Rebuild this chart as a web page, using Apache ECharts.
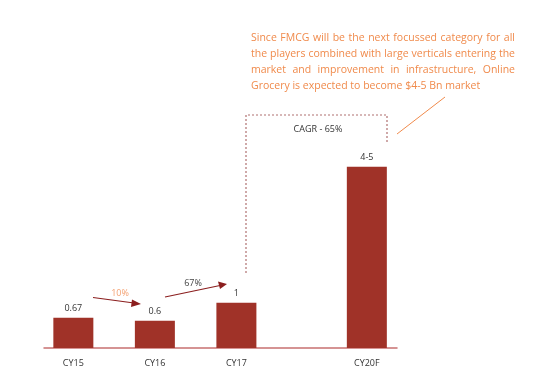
<!DOCTYPE html>
<html><head><meta charset="utf-8">
<script src="https://cdn.jsdelivr.net/npm/echarts@6/dist/echarts.min.js"></script>
<style>html,body{margin:0;padding:0;background:#fff}#c{width:546px;height:389px}</style>
</head><body><div id="c"></div>
<script>
var categories = ['CY15', 'CY16', 'CY17', 'CY20F'];
var slots = [0, 1, 2, 3.6];
var values = [0.67, 0.6, 1, 4];
var valueLabels = ['0.67', '0.6', '1', '4-5'];
var growthLabels = ['10%', '67%'];
var cagrLabel = 'CAGR - 65%';
var noteLines = [
  'Since FMCG will be the next focussed category for all',
  'the players combined with large verticals entering the',
  'market and improvement in infrastructure, Online',
  'Grocery is expected to become $4-5 Bn market'
];

var chart = echarts.init(document.getElementById('c'));
var FONT = '"Open Sans", sans-serif';
var ctx = document.createElement('canvas').getContext('2d');
var noteSize = 10.5;
ctx.font = noteSize + 'px "Open Sans"';

// justified note text
var noteX = 251, noteW = 264, noteY0 = 38, noteLH = 16;
var noteEls = [];
noteLines.forEach(function (line, li) {
  var y = noteY0 + li * noteLH;
  if (li === noteLines.length - 1) {
    noteEls.push({type: 'text', x: noteX, y: y, style: {text: line, fill: '#f08a4b', font: noteSize + 'px ' + FONT, verticalAlign: 'middle'}});
    return;
  }
  var words = line.split(' ');
  var total = 0;
  words.forEach(function (w) { total += ctx.measureText(w).width; });
  var gap = (noteW - total) / (words.length - 1);
  var x = noteX;
  words.forEach(function (w) {
    noteEls.push({type: 'text', x: x, y: y, style: {text: w, fill: '#f08a4b', font: noteSize + 'px ' + FONT, verticalAlign: 'middle'}});
    x += ctx.measureText(w).width + gap;
  });
});

chart.setOption({
  animation: false,
  grid: {left: 44, right: 149, top: 76, bottom: 41},
  xAxis: {
    type: 'value', min: -0.36, max: 3.97,
    splitLine: {show: false},
    axisLine: {show: true, onZero: false, lineStyle: {color: '#c87070', width: 1.5}},
    axisTick: {show: false},
    axisLabel: {
      customValues: slots, margin: 11, color: '#333', fontSize: 9, fontFamily: FONT,
      formatter: function (v) { var i = slots.indexOf(v); return i >= 0 ? categories[i] : ''; }
    }
  },
  yAxis: {type: 'value', min: 0, max: 6, show: false, splitLine: {show: false}},
  series: [{
    type: 'bar', barWidth: 40,
    data: slots.map(function (s, i) { return [s, values[i]]; }),
    itemStyle: {color: '#a03228'},
    label: {
      show: true, position: 'top', distance: 5, color: '#333', fontSize: 9, fontFamily: FONT,
      formatter: function (p) { return valueLabels[p.dataIndex]; }
    }
  }],
  graphic: noteEls.concat([
    {type: 'line', shape: {x1: 93, y1: 297.5, x2: 134, y2: 303}, style: {stroke: '#8b1e1e', lineWidth: 1.2}},
    {type: 'polygon', shape: {points: [[141, 304], [132, 299.5], [131, 307]]}, style: {fill: '#8b1e1e'}},
    {type: 'text', x: 120, y: 293, style: {text: growthLabels[0], fill: '#f4a070', font: '9px ' + FONT, align: 'center', verticalAlign: 'middle'}},
    {type: 'line', shape: {x1: 165, y1: 297, x2: 220, y2: 285.5}, style: {stroke: '#8b1e1e', lineWidth: 1.2}},
    {type: 'polygon', shape: {points: [[227, 284], [218, 281.5], [220, 289]]}, style: {fill: '#8b1e1e'}},
    {type: 'text', x: 193, y: 283, style: {text: growthLabels[1], fill: '#444', font: '9px ' + FONT, align: 'center', verticalAlign: 'middle'}},
    {type: 'polyline', shape: {points: [[246, 273], [246, 115], [387, 115], [387, 143]]}, style: {stroke: '#b07070', lineWidth: 1.2, lineDash: [2, 2], fill: null}},
    {type: 'text', x: 318, y: 129, style: {text: cagrLabel, fill: '#333', font: '9px ' + FONT, align: 'center', verticalAlign: 'middle'}},
    {type: 'line', shape: {x1: 397, y1: 134, x2: 445, y2: 97}, style: {stroke: '#f08a4b', lineWidth: 1}}
  ])
});
</script></body></html>
